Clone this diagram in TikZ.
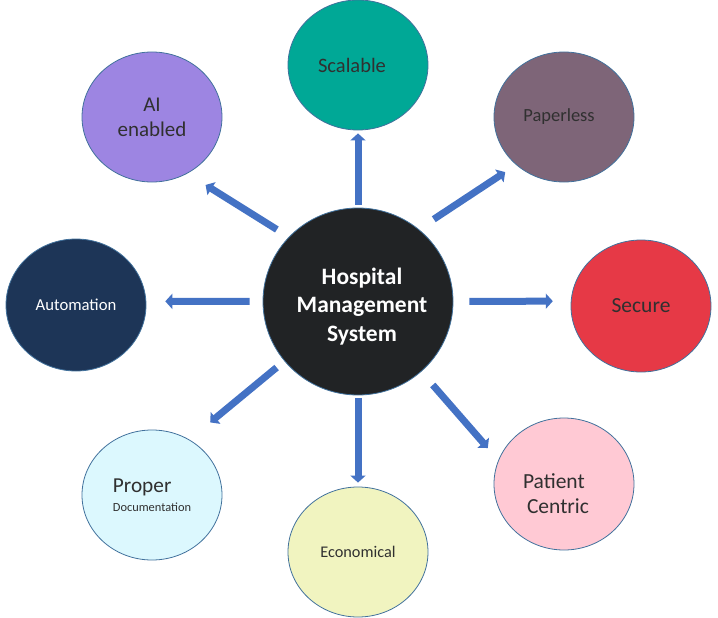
\documentclass[tikz,border=0pt]{standalone}
\usepackage{fontspec}
\setmainfont{Carlito}
\usetikzlibrary{arrows.meta, shapes.geometric}
\definecolor{hmblack}{HTML}{212325}
\definecolor{hmteal}{HTML}{00A896}
\definecolor{hmmauve}{HTML}{7E6578}
\definecolor{hmred}{HTML}{E63946}
\definecolor{hmpink}{HTML}{FFC9D4}
\definecolor{hmcream}{HTML}{F1F4C0}
\definecolor{hmice}{HTML}{DCF8FE}
\definecolor{hmnavy}{HTML}{1D3557}
\definecolor{hmlilac}{HTML}{9D85E2}
\definecolor{hmedge}{HTML}{41719C}
\definecolor{hmarrow}{HTML}{4472C4}
\definecolor{hmtext}{HTML}{303030}

\begin{document}
\begin{tikzpicture}[
  x=1pt, y=-1pt,
  every node/.style={font=\fontsize{16}{19}\selectfont},
  bubble/.style={ellipse, draw=hmedge, line width=0.8pt, minimum width=140pt, minimum height=130pt, inner sep=0pt, align=center, text=hmtext},
  hubnode/.style={bubble, fill=hmblack, minimum width=190pt, minimum height=187pt},
  spoke/.style={-{Triangle[width=15pt,length=7pt]}, line width=7pt, draw=hmarrow},
]
\useasboundingbox (0,0) rectangle (718,618);

\node[hubnode, label={[align=center, text=white, font=\fontsize{23.5}{28.5}\selectfont\bfseries, xshift=4pt, yshift=-5pt]center:Hospital\\Management\\System}] (hms) at (358, 301.5) {};
\node[bubble, fill=hmteal, font=\fontsize{20.5}{24}\selectfont] (scal) at (358, 65) {\hspace*{-12pt}Scalable};
\node[bubble, fill=hmmauve, font=\fontsize{18.5}{22}\selectfont] (paper) at (564, 117) {\hspace*{-10pt}Paperless};
\node[bubble, fill=hmred, minimum height=132pt, font=\fontsize{21.5}{25}\selectfont] (sec) at (641, 306) {Secure};
\node[bubble, fill=hmpink, minimum height=132pt,
  label={[align=left, text=hmtext, font=\fontsize{21.5}{25}\selectfont, xshift=-8pt, yshift=-10pt]center:Patient\\\hspace*{4pt}Centric}] (pat) at (564, 484) {};
\node[bubble, fill=hmcream, font=\fontsize{16.3}{19}\selectfont] (econ) at (358, 552) {Economical};
\node[bubble, fill=hmice, align=left] (doc) at (152, 495) {{\fontsize{21.3}{21}\selectfont Proper}\\{\fontsize{12.4}{15}\selectfont Documentation}};
\node[bubble, fill=hmnavy, minimum height=132pt, text=white, font=\fontsize{16.7}{19}\selectfont] (auto) at (76, 305) {Automation};
\node[bubble, fill=hmlilac, font=\fontsize{21}{25}\selectfont] (ai) at (152, 117) {AI\\enabled};

\draw[spoke, shorten <=3pt, shorten >=3pt] (hms.90) -- (scal.270);
\draw[spoke, shorten <=18pt, shorten >=13pt] (hms.50) -- (paper.225.6);
\draw[spoke, shorten <=16pt, shorten >=18pt] (hms.0) -- (sec.176);
\draw[spoke, shorten <=17.5pt, shorten >=16pt] (hms.-48.5) -- (pat.160);
\draw[spoke, shorten <=3pt, shorten >=4pt] (hms.270) -- (econ.90);
\draw[spoke, shorten <=10pt, shorten >=27pt] (hms.219.8) -- (doc.56);
\draw[spoke, shorten <=13pt, shorten >=19pt] (hms.180) -- (auto.3.3);
\draw[spoke, shorten <=14pt, shorten >=21.5pt] (hms.137.2) -- (ai.-58.4);
\end{tikzpicture}
\end{document}
